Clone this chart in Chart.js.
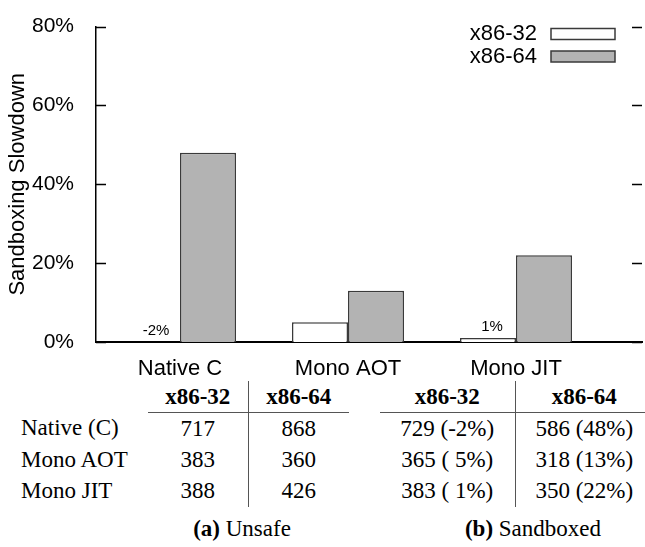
<!DOCTYPE html>
<html lang="en">
<head>
  <meta charset="UTF-8">
  <title>Sandboxing Slowdown</title>
  <script src="https://cdn.jsdelivr.net/npm/chart.js"></script>
  <style>
    * { box-sizing: border-box; }
    body {
      margin: 0;
      padding: 0;
      width: 645px;
      height: 547px;
      overflow: hidden;
      background: #ffffff;
      position: relative;
      font-family: "Liberation Serif", "Times New Roman", serif;
      color: #000;
    }
    #grafico { position: absolute; left: 0; top: 0; }
    table.res {
      position: absolute;
      left: 0;
      top: 381px;
      border-collapse: collapse;
      table-layout: fixed;
      width: 653px;
      font-size: 23px;
    }
    table.res td, table.res th {
      height: 31.5px;
      padding: 0;
      text-align: center;
      white-space: pre;
      font-weight: normal;
    }
    table.res th { font-weight: bold; }
    table.res td.nome { text-align: left; padding-left: 21px; }
    table.res .sep { border-right: 1.5px solid #555; }
    table.res th.cab { border-bottom: 1.5px solid #555; }
    .legenda {
      position: absolute;
      top: 516px;
      font-size: 23px;
      white-space: nowrap;
      transform: translateX(-50%);
    }
  </style>
</head>
<body>
  <canvas id="grafico" width="645" height="380"></canvas>
  <table class="res" id="tabela">
    <colgroup>
      <col style="width:148px"><col style="width:100px"><col style="width:101px">
      <col style="width:31px"><col style="width:135px"><col style="width:138px">
    </colgroup>
  </table>
  <div class="legenda" style="left:242px"><b>(a)</b> Unsafe</div>
  <div class="legenda" style="left:533px"><b>(b)</b> Sandboxed</div>

  <script>
    // chart data
    const categorias = ['Native C', 'Mono AOT', 'Mono JIT'];
    const slowdown32 = [-2, 5, 1];
    const slowdown64 = [48, 13, 22];
    const notas32 = ['-2%', null, '1%'];
    const yTicks = [0, 20, 40, 60, 80];

    // table data
    const linhas = ['Native (C)', 'Mono AOT', 'Mono JIT'];
    const unsafe32 = [717, 383, 388];
    const unsafe64 = [868, 360, 426];
    const sandbox32 = [729, 365, 383];
    const sandbox64 = [586, 318, 350];

    const fonteSans = '"Liberation Sans", Arial, sans-serif';

    const ticksInternos = {
      id: 'ticksInternos',
      afterDraw(chart) {
        const { ctx, chartArea, scales } = chart;
        const y = scales.y;
        ctx.save();
        ctx.strokeStyle = '#000';
        ctx.lineWidth = 1.5;
        y.ticks.forEach(t => {
          const py = Math.round(y.getPixelForValue(t.value)) + 0.5;
          ctx.beginPath();
          ctx.moveTo(chartArea.left, py); ctx.lineTo(chartArea.left + 10, py);
          ctx.moveTo(chartArea.right - 10, py); ctx.lineTo(chartArea.right, py);
          ctx.stroke();
        });
        ctx.restore();
      }
    };

    const notasBarras = {
      id: 'notasBarras',
      afterDatasetsDraw(chart) {
        const { ctx, scales } = chart;
        const meta = chart.getDatasetMeta(0);
        ctx.save();
        ctx.font = '15px ' + fonteSans;
        ctx.fillStyle = '#000';
        ctx.textAlign = 'center';
        ctx.textBaseline = 'middle';
        meta.data.forEach((el, i) => {
          if (!notas32[i]) return;
          const py = scales.y.getPixelForValue(Math.max(slowdown32[i], 0));
          ctx.fillText(notas32[i], el.x + 4, py - 11);
        });
        ctx.restore();
      }
    };

    const legendaDireita = {
      id: 'legendaDireita',
      afterDraw(chart) {
        const { ctx, chartArea } = chart;
        ctx.save();
        ctx.font = '22px ' + fonteSans;
        ctx.textAlign = 'right';
        ctx.textBaseline = 'middle';
        chart.data.datasets.forEach((ds, i) => {
          const cy = 34 + i * 22.5;
          ctx.fillStyle = '#000';
          ctx.fillText(ds.label, chartArea.right - 105, cy);
          ctx.fillStyle = ds.backgroundColor;
          ctx.strokeStyle = ds.borderColor;
          ctx.lineWidth = 1.5;
          ctx.fillRect(chartArea.right - 91, cy - 5.5, 64, 11);
          ctx.strokeRect(chartArea.right - 91, cy - 5.5, 64, 11);
        });
        ctx.restore();
      }
    };

    new Chart(document.getElementById('grafico'), {
      type: 'bar',
      data: {
        datasets: [
          {
            label: 'x86-32',
            data: slowdown32.map((v, i) => ({ x: i, y: v })),
            backgroundColor: '#ffffff',
            borderColor: '#3a3a3a',
            borderWidth: 1.5
          },
          {
            label: 'x86-64',
            data: slowdown64.map((v, i) => ({ x: i, y: v })),
            backgroundColor: '#b3b3b3',
            borderColor: '#3a3a3a',
            borderWidth: 1.5
          }
        ]
      },
      options: {
        responsive: false,
        animation: false,
        categoryPercentage: 2 / 3,
        barPercentage: 1,
        layout: { padding: { top: 13, right: 3, left: 0, bottom: 0 } },
        plugins: {
          legend: { display: false },
          tooltip: { enabled: false }
        },
        scales: {
          x: {
            type: 'linear',
            offset: false,
            min: -0.5,
            max: 2.75,
            afterBuildTicks: s => { s.ticks = categorias.map((_, i) => ({ value: i })); },
            afterFit: s => { s.height = 38; },
            grid: { display: false },
            border: { display: true, color: '#000', width: 2 },
            ticks: {
              autoSkip: false,
              maxRotation: 0,
              padding: 6,
              color: '#000',
              font: { family: fonteSans, size: 22 },
              callback: v => categorias[v]
            }
          },
          y: {
            min: 0,
            max: 80,
            afterBuildTicks: s => { s.ticks = yTicks.map(v => ({ value: v })); },
            afterFit: s => { s.width = 96; },
            grid: { display: false },
            border: { display: true, color: '#000', width: 1.5 },
            ticks: {
              padding: 14,
              color: '#000',
              font: { family: fonteSans, size: 21 },
              callback: v => v + '%'
            },
            title: {
              display: true,
              text: 'Sandboxing Slowdown',
              color: '#000',
              padding: { top: 5, bottom: 0 },
              font: { family: fonteSans, size: 22 }
            }
          }
        }
      },
      plugins: [ticksInternos, notasBarras, legendaDireita]
    });

    // tabela
    const pct = v => '(' + String(v).padStart(2, ' ') + '%)';
    const tabela = document.getElementById('tabela');
    let html = '<tr><th></th><th class="cab sep">x86-32</th><th class="cab">x86-64</th><th></th>' +
               '<th class="cab sep">x86-32</th><th class="cab">x86-64</th></tr>';
    linhas.forEach((nome, i) => {
      html += '<tr><td class="nome">' + nome + '</td>' +
              '<td class="sep">' + unsafe32[i] + '</td>' +
              '<td>' + unsafe64[i] + '</td><td></td>' +
              '<td class="sep">' + sandbox32[i] + ' ' + pct(slowdown32[i]) + '</td>' +
              '<td>' + sandbox64[i] + ' ' + pct(slowdown64[i]) + '</td></tr>';
    });
    tabela.insertAdjacentHTML('beforeend', html);
  </script>
</body>
</html>
